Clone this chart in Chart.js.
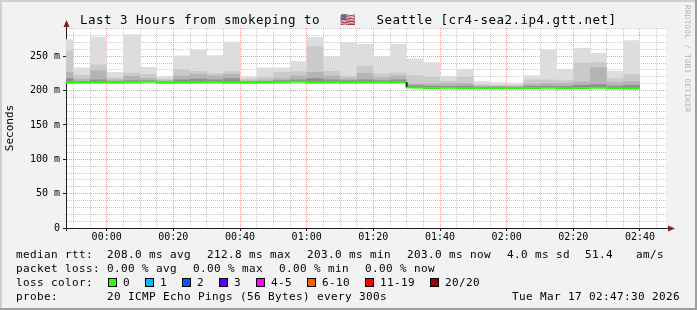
<!DOCTYPE html>
<html><head><meta charset="utf-8">
<script src="https://cdn.jsdelivr.net/npm/chart.js@4/dist/chart.umd.min.js"></script>
<style>html,body{margin:0;padding:0;background:#f2f2f2;overflow:hidden}canvas{display:block}</style>
</head><body>
<canvas id="c" width="697" height="310"></canvas>
<script>
// ---- data ----
const stepEnds = ['23:50','23:55','00:00','00:05','00:10','00:15','00:20','00:25','00:30','00:35','00:40','00:45','00:50','00:55','01:00','01:05','01:10','01:15','01:20','01:25','01:30','01:35','01:40','01:45','01:50','01:55','02:00','02:05','02:10','02:15','02:20','02:25','02:30','02:35','02:40'];
const smokeMax   = [274.7,233.6,278.3,227.0,281.8,234.2,221.0,251.0,259.0,251.5,271.0,220.0,233.6,233.6,242.7,278.0,249.0,270.8,267.9,249.0,267.9,246.6,241.3,221.2,231.3,213.5,212.2,211.2,222.4,259.0,230.8,261.8,254.7,228.6,273.2];
const smokeUpper = [258.7,222.6,238.0,219.0,226.0,224.0,217.0,231.0,228.6,225.7,228.0,217.0,220.0,227.0,228.0,264.5,228.6,221.0,236.0,224.8,226.0,222.4,220.0,214.0,220.2,209.0,208.0,208.0,216.0,216.0,215.0,240.3,241.3,217.6,223.8];
const smokeInner = [227.0,217.0,229.0,216.0,221.0,218.0,215.0,222.0,224.0,222.0,224.0,214.5,216.0,218.0,222.0,227.0,222.0,218.0,225.0,219.0,222.0,210.0,210.0,210.5,210.5,207.0,206.5,206.5,210.0,210.5,210.5,213.0,234.0,212.0,214.0];
const smokeCore  = [218.0,214.0,216.0,213.5,215.0,215.0,213.0,216.0,217.0,216.0,218.0,213.0,214.0,215.0,216.0,218.0,216.0,215.0,216.0,215.0,216.0,207.8,207.0,206.5,207.0,205.5,205.5,205.0,206.5,207.0,206.5,208.0,209.0,207.0,208.0];
const medianRtt  = [211.5,211.8,212.0,211.6,212.2,212.8,211.5,211.7,212.0,212.6,211.8,211.3,211.6,212.2,212.8,211.6,212.0,211.8,212.0,212.2,211.9,204.5,203.8,204.0,203.5,203.3,203.5,203.2,203.6,204.0,203.4,203.8,204.2,203.5,203.0];
const yTickLabels = ['0','50 m','100 m','150 m','200 m','250 m'];
const xTickLabels = ['00:00','00:20','00:40','01:00','01:20','01:40','02:00','02:20','02:40'];
const titleLeft = 'Last 3 Hours from smokeping to';
const titleFlag = '\u{1F1FA}\u{1F1F8}';
const titleRight = 'Seattle [cr4-sea2.ip4.gtt.net]';
const statRtt = ['median rtt:','208.0 ms avg','212.8 ms max','203.0 ms min','203.0 ms now','4.0 ms sd','51.4','am/s'];
const statLoss = ['packet loss:','0.00 % avg','0.00 % max','0.00 % min','0.00 % now'];
const lossLabels = ['0','1','2','3','4-5','6-10','11-19','20/20'];
const lossColors = ['#26ff00','#00b8ff','#0059ff','#5e00ff','#ff00ff','#ff5e00','#ff0000','#a10000'];
const probeText = ['probe:','20 ICMP Echo Pings (56 Bytes) every 300s','Tue Mar 17 02:47:30 2026'];
const watermark = 'RRDTOOL / TOBI OETIKER';

// ---- helpers ----
const STEP = 5;
function toMin(s){const [h,m]=s.split(':').map(Number);return (h>=12?h-24:h)*60+m;}
function steps(vals){const p=[];stepEnds.forEach((t,i)=>{const e=toMin(t);p.push({x:e-STEP,y:vals[i]},{x:e,y:vals[i]});});return p;}
const MONO='"DejaVu Sans Mono", "Liberation Mono", monospace';
function mono(ctx,s,x,y,adv){for(let i=0;i<s.length;i++)ctx.fillText(s[i],x+i*adv,y);}

const bgPlugin={id:'bg',beforeDraw(chart){
  const c=chart.ctx,W=chart.width,H=chart.height,a=chart.chartArea;
  c.save();
  c.fillStyle='#f2f2f2';c.fillRect(0,0,W,H);
  c.fillStyle='#cfcfcf';c.fillRect(0,0,W,2);c.fillRect(0,0,2,H);
  c.fillStyle='#9e9e9e';c.fillRect(0,H-2,W,2);c.fillRect(W-2,0,2,H);
  c.fillStyle='#ffffff';c.fillRect(a.left,a.top,a.right-a.left,a.bottom-a.top);
  c.restore();
}};
const decorPlugin={id:'decor',afterDraw(chart){
  const c=chart.ctx,a=chart.chartArea;
  c.save();
  // axis extensions & arrows
  c.fillStyle='#1f1f1f';
  c.fillRect(a.left-3,a.bottom,3,1);
  c.fillRect(a.left,a.bottom,1,3);
  c.fillRect(a.right,a.bottom,3,1);
  c.fillRect(a.left,a.top-2,1,2);
  c.fillStyle='#801f1f';
  c.beginPath();c.moveTo(a.left+0.5,a.top-8);c.lineTo(a.left-2.5,a.top-1);c.lineTo(a.left+3.5,a.top-1);c.closePath();c.fill();
  c.beginPath();c.moveTo(a.right+9,a.bottom+0.5);c.lineTo(a.right+2,a.bottom-2.5);c.lineTo(a.right+2,a.bottom+3.5);c.closePath();c.fill();
  // title
  c.fillStyle='#000';c.textBaseline='alphabetic';
  c.font='12.5px '+MONO;
  mono(c,titleLeft,80,24,8);
  c.textAlign='center';
  c.fillText(titleFlag,348,24);
  c.textAlign='left';
  mono(c,titleRight,376.5,24,8);
  // watermark
  c.save();c.translate(684.5,5);c.rotate(Math.PI/2);
  c.fillStyle='rgba(0,0,0,0.28)';c.font='7.5px '+MONO;c.textBaseline='alphabetic';
  mono(c,watermark,0,0,4.9);
  c.restore();
  // legend
  c.font='11px '+MONO;c.fillStyle='#000';
  const rttX=[16,107,207,307,407,507,585,636];
  statRtt.forEach((s,i)=>mono(c,s,rttX[i],258,7));
  const lossX=[16,107,193,279,365];
  statLoss.forEach((s,i)=>mono(c,s,lossX[i],272,7));
  mono(c,'loss color:',16,286,7);
  const boxX=[108,145,182,219,256,307,365,430];
  lossLabels.forEach((l,i)=>{
    c.fillStyle=lossColors[i];c.fillRect(boxX[i],278,9,9);
    c.strokeStyle='#000';c.lineWidth=1;c.strokeRect(boxX[i]+0.5,278.5,8,8);
    c.fillStyle='#000';mono(c,l,boxX[i]+15,286,7);
  });
  mono(c,probeText[0],16,300,7);
  mono(c,probeText[1],107,300,7);
  mono(c,probeText[2],512,300,7);
  c.restore();
}};

const GRID_MINOR='rgba(143,143,143,0.5)';
const GRID_MAJOR='rgba(222,79,79,0.55)';
const ctx=document.getElementById('c').getContext('2d');
const layer=(vals,color,order)=>({data:steps(vals),backgroundColor:color,borderColor:'rgba(0,0,0,0)',borderWidth:0,fill:4,order:order,pointRadius:0});
new Chart(ctx,{
  type:'line',
  data:{datasets:[
    layer(smokeMax,'#dddddd',4),
    layer(smokeUpper,'#cacaca',3),
    layer(smokeInner,'#b4b4b4',2),
    layer(smokeCore,'#8e8e8e',1),
    {data:steps(medianRtt),borderColor:'#26ff00',borderWidth:2,fill:false,order:0,pointRadius:0,
     segment:{borderColor:s=>Math.abs(s.p0.parsed.y-s.p1.parsed.y)>4?'#202020':undefined}}
  ]},
  options:{
    responsive:false,animation:false,devicePixelRatio:1,events:[],
    layout:{padding:{left:0,top:28,right:31,bottom:0}},
    elements:{line:{tension:0},point:{radius:0,hitRadius:0}},
    plugins:{legend:{display:false},tooltip:{enabled:false},title:{display:false}},
    scales:{
      x:{type:'linear',min:-12.2,max:167.8,bounds:'data',z:1,
        afterBuildTicks:s=>{const t=[];for(let v=-10;v<=165;v+=5)t.push({value:v});s.ticks=t;},
        afterFit:s=>{s.height=82;},
        grid:{color:c=>{const v=c.tick?c.tick.value:1;return v%20===0?GRID_MAJOR:GRID_MINOR;},lineWidth:1,drawTicks:true,tickLength:3,
              tickColor:c=>{const v=c.tick?c.tick.value:1;return v%20===0?'#1f1f1f':'rgba(0,0,0,0)';}},
        border:{display:true,color:'#1f1f1f',width:1,dash:[1,1]},
        ticks:{autoSkip:false,maxRotation:0,minRotation:0,padding:0,color:'#000',font:{family:MONO,size:10},
          callback:v=>(v>=0&&v%20===0&&xTickLabels[v/20]!==undefined)?xTickLabels[v/20]:''}
      },
      y:{type:'linear',min:0,max:291,bounds:'data',z:1,
        afterBuildTicks:s=>{const t=[];for(let v=0;v<=290;v+=10)t.push({value:v});s.ticks=t;},
        afterFit:s=>{s.width=66;},
        title:{display:true,text:'Seconds',color:'#000',font:{family:MONO,size:11},padding:{top:4,bottom:0}},
        grid:{color:c=>{const v=c.tick?c.tick.value:1;if(v===0)return 'rgba(0,0,0,0)';return v%50===0?GRID_MAJOR:GRID_MINOR;},lineWidth:1,drawTicks:true,tickLength:3,
              tickColor:c=>{const v=c.tick?c.tick.value:1;return v%50===0?'#1f1f1f':'rgba(0,0,0,0)';}},
        border:{display:true,color:'#1f1f1f',width:1,dash:[1,1]},
        ticks:{autoSkip:false,padding:3,color:'#000',font:{family:MONO,size:10},
          callback:v=>(v%50===0&&yTickLabels[v/50]!==undefined)?yTickLabels[v/50]:''}
      }
    }
  },
  plugins:[bgPlugin,decorPlugin]
});
</script>
</body></html>
